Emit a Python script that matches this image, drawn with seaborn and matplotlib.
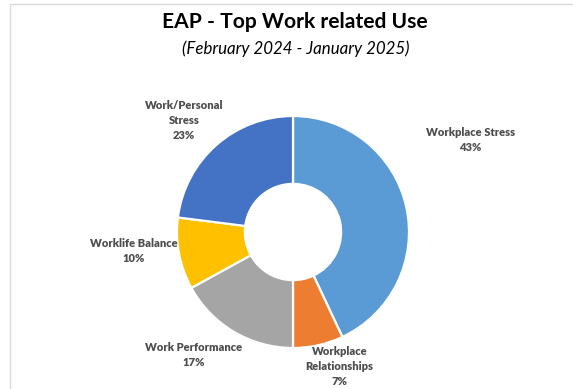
import matplotlib
matplotlib.use("Agg")
import matplotlib.pyplot as plt
from matplotlib.patches import Rectangle
import seaborn as sns

# Share of work-related EAP use by category
categories = ["Workplace Stress", "Workplace\nRelationships", "Work Performance",
              "Worklife Balance", "Work/Personal\nStress"]
shares = [43, 7, 17, 10, 23]
colors = ["#5B9BD5", "#ED7D31", "#A5A5A5", "#FFC000", "#4472C4"]

title = "EAP - Top Work related Use"
subtitle = "(February 2024 - January 2025)"

# label anchor points around the ring, in units of the outer radius
label_xy = [(1.53, 0.79), (0.40, -1.16), (-0.86, -1.06), (-1.37, -0.16), (-0.94, 0.96)]

sns.set_theme(style="white")
plt.rcParams["font.family"] = ["Lato", "DejaVu Sans"]

W, H = 573, 389
fig = plt.figure(figsize=(W / 100, H / 100), dpi=100)
fig.patch.set_facecolor("white")

# light frame around the chart area
fig.patches.append(Rectangle((9.5 / W, -0.05), 1.2, 1 - 3.5 / H + 0.05,
                             transform=fig.transFigure, fill=False,
                             edgecolor="#D9D9D9", linewidth=1.0))

cx, cy, R = 293, 232, 116
ax = fig.add_axes([(cx - R) / W, (H - cy - R) / H, 2 * R / W, 2 * R / H])
ax.pie(shares, colors=colors, startangle=90, counterclock=False, radius=1.0,
       wedgeprops=dict(width=0.585, edgecolor="white", linewidth=1.6))
ax.set_xlim(-1, 1)
ax.set_ylim(-1, 1)
ax.set_aspect("auto")
ax.axis("off")

for name, val, (lx, ly) in zip(categories, shares, label_xy):
    ax.text(lx, ly, f"{name}\n{val}%", ha="center", va="center",
            fontsize=8, fontweight="heavy", color="#4D4D4D",
            linespacing=1.45, clip_on=False)

fig.text(295 / W, 1 - 22 / H, title, ha="center", va="center",
         fontsize=15.1, fontweight="bold", color="black")
fig.text(295.5 / W, 1 - 49 / H, subtitle, ha="center", va="center",
         fontsize=12.2, fontstyle="italic", color="black")

fig.savefig("out.png", dpi=100, facecolor="white")
